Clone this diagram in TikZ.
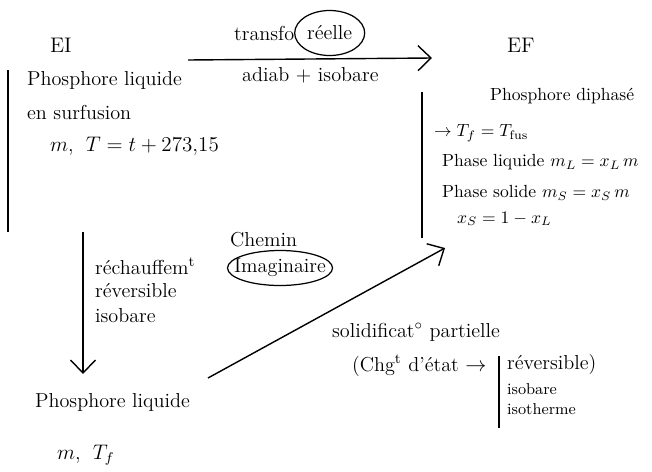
\documentclass[tikz,border=0pt]{standalone}
\usepackage{amsmath}
\usetikzlibrary{arrows.meta,positioning,shapes.geometric}
\tikzset{
  txt/.style={font=\fontsize{11.5}{13}\selectfont, anchor=west, inner sep=1pt},
  eftxt/.style={txt, font=\normalsize},
  smalltxt/.style={txt, font=\small},
  arrow/.style={-{Straight Barb[length=2.6mm,width=5mm]}, line width=.8pt},
  bar/.style={line width=.8pt},
  ring/.style={draw, ellipse, line width=.7pt, inner sep=0pt}
}
\begin{document}
\begin{tikzpicture}[x=0.2mm,y=-0.2mm]
  \useasboundingbox (0,0) rectangle (652,471);

  % etat initial
  \node[txt, font=\large] (ei) at (48,45) {EI};
  \node[txt] (liq) at (25,80) {Phosphore liquide};
  \node[txt] (surf) at (25,112) {en surfusion};
  \node[txt] (mT) at (48,146) {$m$,\; $T=t+273{,}15$};
  \coordinate (eitop) at (8,70);
  \coordinate (eibot) at (8,232);
  \draw[bar] (eitop) -- (eibot);

  % transformation reelle
  \coordinate (ta) at (188,60);
  \coordinate (tb) at (432,58);
  \draw[arrow] (ta) -- (tb);
  \node[txt] (transfo) at (232,33) {transfo};
  \node[txt, right=5pt of transfo] (reelle) {réelle};
  \node[ring, minimum width=14mm, minimum height=9mm] (reelring) at (reelle) {};
  \node[txt] (adiab) at (240,75) {adiab + isobare};

  % etat final
  \node[txt, font=\large] (ef) at (505,45) {EF};
  \node[eftxt] (diph) at (488,96) {Phosphore diphasé};
  \node[eftxt] (tf) at (432,133) {$\rightarrow T_f = T_{\text{fus}}$};
  \node[eftxt] (pl) at (440,162) {Phase liquide $m_L = x_L\, m$};
  \node[eftxt] (ps) at (440,193) {Phase solide $m_S = x_S\, m$};
  \node[eftxt] (xs) at (455,219) {$x_S = 1-x_L$};
  \coordinate (eftop) at (422,92);
  \coordinate (efbot) at (422,238);
  \draw[bar] (eftop) -- (efbot);

  % chemin imaginaire
  \coordinate (da) at (83,232);
  \coordinate (db) at (83,374);
  \node[txt] (liqf) at (33,402) {Phosphore liquide};
  \node[txt] (mTf) at (55,455) {$m$,\; $T_f$};
  \draw[arrow] (da) -- (db);
  \node[txt] (rech) at (93,266) {réchauffem$^{\text{t}}$};
  \node[txt] (rev) at (93,291) {réversible};
  \node[txt] (isob) at (93,316) {isobare};
  \node[txt] (chemin) at (228,240) {Chemin};
  \node[txt] (imag) at (232,268) {Imaginaire};
  \node[ring, minimum width=21mm, minimum height=7mm] (imagring) at (imag) {};

  \coordinate (sa) at (208,378);
  \coordinate (sb) at (445,248);
  \draw[arrow] (sa) -- (sb);

  % solidification
  \node[txt] (solid) at (330,332) {solidificat$^{\circ}$ partielle};
  \node[txt] (chg) at (350,366) {(Chg$^{\text{t}}$ d'état $\rightarrow$};
  \node[txt] (revb) at (505,364) {réversible)};
  \node[smalltxt] (isob2) at (505,389) {isobare};
  \node[smalltxt] (isoth) at (505,409) {isotherme};
  \coordinate (cbtop) at (499,356);
  \coordinate (cbbot) at (499,428);
  \draw[bar] (cbtop) -- (cbbot);
\end{tikzpicture}
\end{document}
